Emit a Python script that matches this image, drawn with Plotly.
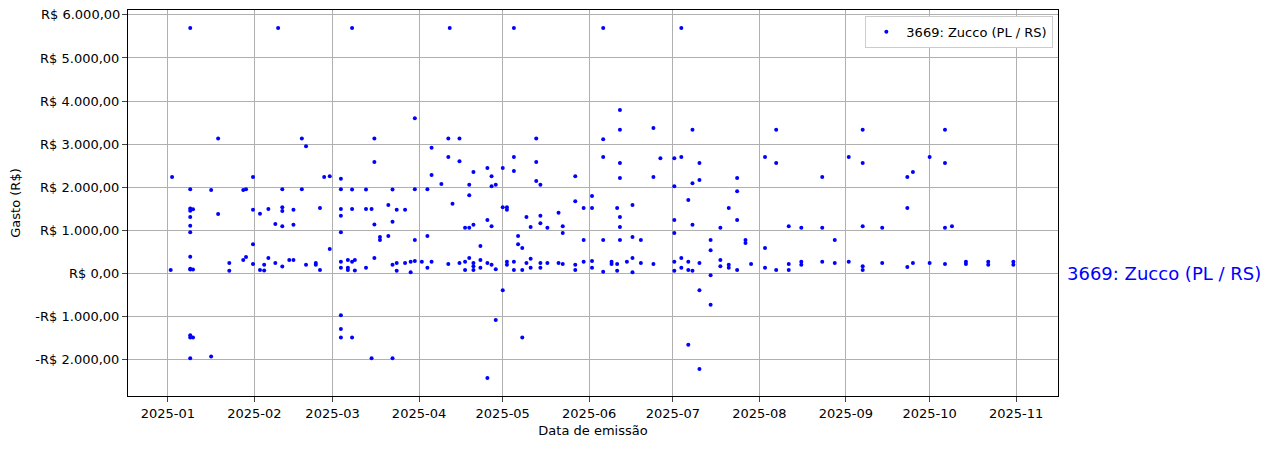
import datetime as dt
import plotly.graph_objects as go

# day offset from 2025-01-01 -> list of expense values (R$)
groups = [
    (1, [70]), (1.5, [2230]),
    (8, [5700, 1950, 1450, 1500, 1300, 1100, 950, 380, 100, 80, -1450, -1500, -1980]),
    (9, [1480, 80, -1500]),
    (15.5, [1930, -1940]), (18, [3130, 1370]), (22, [230, 50]),
    (27, [1930, 300]), (28, [1950, 370]), (30.5, [2230, 1470, 670, 210]),
    (33, [1380, 70]), (34.5, [60, 190]), (36, [1490, 350]), (38.5, [1140, 230]),
    (39.5, [5700]), (41, [1950, 1530, 1440, 1090, 150]), (43.5, [300]),
    (45, [300, 1470, 1120]), (48, [3130, 1950]), (49.5, [2950, 190]),
    (53, [230, 190]), (54.5, [1510, 70]), (56, [2230]), (58, [560, 2250]),
    (62, [2190, 1950, 1490, 1330, 950, 260, 120, -980, -1300, -1500]),
    (64.5, [120, 300, 70]), (66, [1490, 5700, 1940, -1500, 260]), (67, [60, 300]),
    (71, [1490, 1940, 120]), (73, [-1980, 1490]), (74, [3130, 2580, 1130, 350]),
    (76, [770, 840]), (79, [1580, 860]), (80.5, [1190, 1940, 190, -1980]),
    (82, [1470, 230, 50]), (85, [230, 1470]), (87, [260, 20]),
    (88.5, [3600, 1950, 280, 770]), (91, [260]), (93, [860, 1950, 120]),
    (94.5, [2910, 2280, 260]), (98, [2070]), (100.5, [3130, 2700, 210]),
    (101, [5700]), (102, [1610]), (104.5, [3130, 2600, 230]),
    (106.5, [1050, 260, 70]), (108, [1050, 2050, 1810, 350]),
    (109.5, [2350, 230, 1120, 70, 160]), (112, [120, 300, 630]),
    (114.5, [2440, 1230, 230, -2440]), (116, [2250, 2020, 1090, 190]),
    (117.5, [2050, -1090, 90]), (120, [-400, 2440, 1530]),
    (121.5, [1530, 190, 260, 1470]), (124, [5700, 2700, 2370, 70, 260]),
    (125.5, [860, 670]), (127, [580, 70, -1500]), (128.5, [1300, 230]),
    (130, [330, 120, 1070]), (132, [2140, 3130, 2580]),
    (133.5, [2050, 1160, 1330, 230, 120]), (136, [1050, 230]),
    (140, [1400, 230]), (141.5, [1090, 930, 210]), (146, [2250, 1670, 190, 70]),
    (149, [770, 260, 1510]), (152, [1510, 1790, 280, 120]),
    (156, [5700, 2700, 3110, 770, 30]), (159, [210, 260]), (161, [1510, 50, 210]),
    (162, [3330, 3790, 2560, 2210, 1300, 1070, 770]), (164.5, [260]),
    (166.5, [840, 1580, 20, 350]), (169.5, [230, 770]), (174, [3370, 2230, 210]),
    (176.5, [2670]), (181.5, [2020, 2670, 1230, 930, 260, 50]),
    (184, [5700, 2700, 120, 350]), (186.5, [1700, 70, 260, -1670]),
    (188, [2090, 3330, 1120, 50]), (190.5, [2560, 2160, 230, -2230, -400]),
    (194.5, [770, -740, 530, -50]), (198, [1050, 300, 160]),
    (201, [1510, 190, 120]), (204, [1900, 2210, 1230, 70]), (207, [700, 770]),
    (209, [210]), (214, [2700, 580, 120]), (218, [3330, 2560, 70]),
    (222.5, [1090, 210, 70]), (227, [1050, 260, 190]), (234.5, [2230, 1050, 260]),
    (239, [770, 230]), (244, [2700, 260]), (249, [3330, 2560, 1090, 70, 160]),
    (256, [230, 1050]), (265, [2230, 1510, 140]), (267, [2350, 230]),
    (273, [2700, 230]), (278.5, [3330, 2560, 210, 1050]), (281, [1090]),
    (286, [210, 260]), (294, [260, 190]), (303, [260, 190]),
]

y_ticks = [-2000, -1000, 0, 1000, 2000, 3000, 4000, 5000, 6000]
label = "3669: Zucco (PL / RS)"

base = dt.datetime(2025, 1, 1)
xs, ys = [], []
for d, vals in groups:
    for v in vals:
        xs.append(base + dt.timedelta(days=d))
        ys.append(v)


def brl(v):
    s = f"{abs(v):,.2f}".replace(",", "X").replace(".", ",").replace("X", ".")
    return ("-R$ " if v < 0 else "R$ ") + s


fig = go.Figure()
fig.add_trace(go.Scatter(
    x=xs, y=ys, mode="markers", name=label,
    marker=dict(color="blue", size=4),
))
fig.add_annotation(
    x=1.008, xref="paper", y=0, yref="y", text=label, showarrow=False,
    xanchor="left", font=dict(color="blue", size=18),
)
# top tick label drawn as annotation (plotly hides labels that overflow the page top)
fig.add_annotation(
    x=0, xref="paper", y=y_ticks[-1], yref="y", text=brl(y_ticks[-1]),
    showarrow=False, xanchor="right", xshift=-6, font=dict(size=13, color="black"),
)
axis = dict(showgrid=True, gridcolor="#b0b0b0", showline=True, linecolor="black",
            mirror=True, ticks="outside", zeroline=False, automargin=False,
            tickfont=dict(size=13, color="black"))
fig.update_layout(
    width=1286, height=449,
    margin=dict(l=120, r=236, t=2, b=61),
    plot_bgcolor="white", paper_bgcolor="white",
    font=dict(family="DejaVu Sans", color="black"),
    showlegend=True,
    legend=dict(x=0.995, y=0.985, xanchor="right", yanchor="top",
                bordercolor="#cccccc", borderwidth=1, font=dict(size=13)),
    xaxis=dict(axis, title=dict(text="Data de emissão", font=dict(size=13), standoff=6),
               range=[base + dt.timedelta(days=-14.3), base + dt.timedelta(days=319)],
               tickformat="%Y-%m", dtick="M1"),
    yaxis=dict(axis, title=dict(text="Gasto (R$)", font=dict(size=13)),
               range=[-2860, 6116], tickvals=y_ticks,
               ticktext=[brl(v) if v != y_ticks[-1] else "" for v in y_ticks]),
)
fig.write_html("out.html")
